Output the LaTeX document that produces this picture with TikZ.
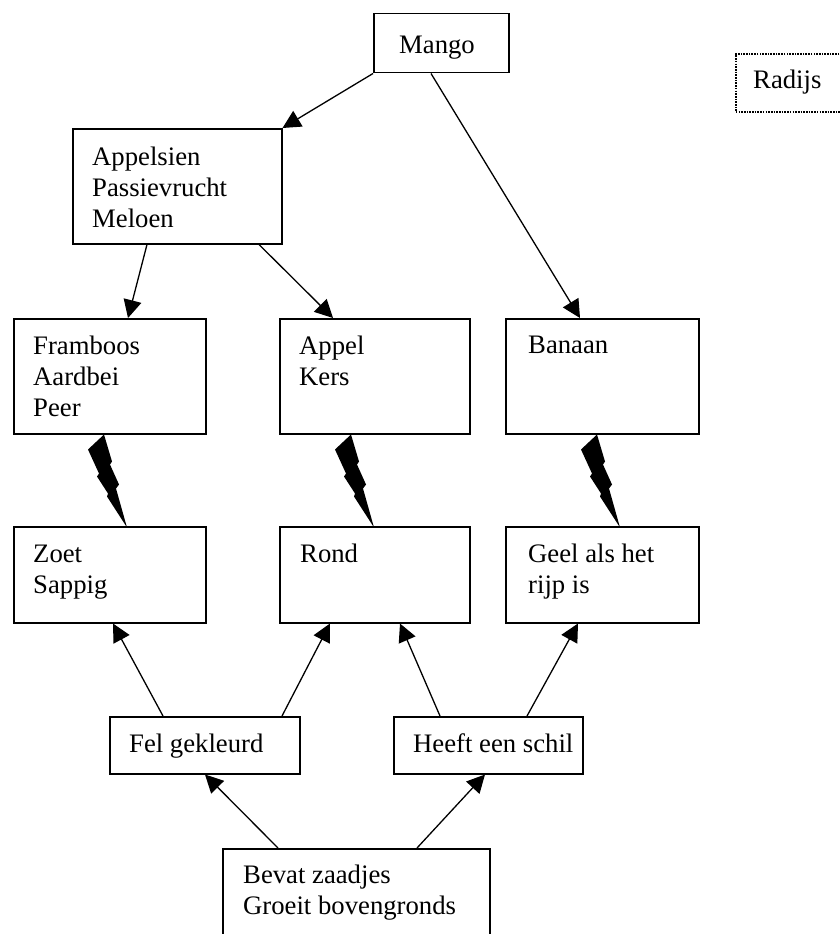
\documentclass[tikz,border=0pt]{standalone}
\usepackage{fontspec}
\setmainfont{Liberation Serif}
\usetikzlibrary{arrows.meta,calc}
\tikzset{
  box/.style={draw, line width=1.5pt, anchor=north west, inner sep=0pt},
  dotbox/.style={draw, line width=1.6pt, dash pattern=on 1.6pt off 1.1pt, anchor=north west, inner sep=0pt},
  txt/.style={anchor=north west, inner sep=0pt, align=left, font=\fontsize{26.7}{31.3}\selectfont},
  arr/.style={line width=1.3pt, -{Triangle[length=18pt,width=18pt]}},
  bolt/.pic={\fill (0,0) -- (8,27) -- (6,30) -- (15,50) -- (12,54) -- (23,93) -- (3,62) -- (4,59) -- (-7,42) -- (-5,39) -- (-16,15) -- cycle;}
}
\begin{document}
\begin{tikzpicture}[x=1pt,y=-1pt]
\clip (0,0) rectangle (840,934);
\fill[white] (0,0) rectangle (840,934);
% boxes
\node[box, minimum width=135pt, minimum height=59pt] (mango) at (373,13) {};
\node[dotbox, minimum width=120pt, minimum height=58pt] (ra) at (735,53) {};
\node[box, minimum width=209pt, minimum height=115pt] (ap) at (72,128) {};
\node[box, minimum width=192pt, minimum height=115pt] (fr) at (13,318) {};
\node[box, minimum width=190pt, minimum height=115pt] (ak) at (279,318) {};
\node[box, minimum width=193pt, minimum height=115pt] (ba) at (505,318) {};
\node[box, minimum width=192pt, minimum height=96pt] (zo) at (13,526) {};
\node[box, minimum width=190pt, minimum height=96pt] (ro) at (279,526) {};
\node[box, minimum width=193pt, minimum height=96pt] (ge) at (505,526) {};
\node[box, minimum width=190pt, minimum height=57pt] (fe) at (109,716) {};
\node[box, minimum width=189pt, minimum height=57pt] (he) at (393,716) {};
\node[box, minimum width=267pt, minimum height=120pt] (be) at (222,848) {};
% texts
\node[txt] (mangot) at ($(mango.north west)+(26,18)$) {\strut Mango};
\node[txt] (rat) at ($(ra.north west)+(18,13)$) {\strut Radijs};
\node[txt] (apt) at ($(ap.north west)+(20,15)$) {\strut Appelsien\\Passievrucht\\Meloen};
\node[txt] (frt) at ($(fr.north west)+(20,14)$) {\strut Framboos\\Aardbei\\Peer};
\node[txt] (akt) at ($(ak.north west)+(20,14)$) {\strut Appel\\Kers};
\node[txt] (bat) at ($(ba.north west)+(23,13)$) {\strut Banaan};
\node[txt] (zot) at ($(zo.north west)+(20,14)$) {\strut Zoet\\Sappig};
\node[txt] (rot) at ($(ro.north west)+(21,14)$) {\strut Rond};
\node[txt] (get) at ($(ge.north west)+(23,14)$) {\strut Geel als het\\rijp is};
\node[txt] (fet) at ($(fe.north west)+(20,14)$) {\strut Fel gekleurd};
\node[txt] (het) at ($(he.north west)+(20,14)$) {\strut Heeft een schil};
\node[txt] (bet) at ($(be.north west)+(21,13)$) {\strut Bevat zaadjes\\Groeit bovengronds};
% arrows
\draw[arr] (mango.south west) -- (ap.north east);
\draw[arr] ($(mango.south west)+(58,0)$) -- ($(ba.north west)+(75,0)$);
\draw[arr] ($(ap.south west)+(75,0)$) -- ($(fr.north west)+(115,0)$);
\draw[arr] ($(ap.south west)+(187,0)$) -- ($(ak.north west)+(54,0)$);
\draw[arr] ($(fe.north west)+(54,0)$) -- ($(zo.south west)+(100,0)$);
\draw[arr] ($(fe.north west)+(173,0)$) -- ($(ro.south west)+(51,0)$);
\draw[arr] ($(he.north west)+(47,0)$) -- ($(ro.south west)+(121,0)$);
\draw[arr] ($(he.north west)+(134,0)$) -- ($(ge.south west)+(73,0)$);
\draw[arr] ($(be.north west)+(56,0)$) -- ($(fe.south west)+(96,0)$);
\draw[arr] ($(be.north west)+(195,0)$) -- ($(he.south west)+(92,0)$);
% lightning bolts
\pic at ($(fr.south west)+(91,0)$) {bolt};
\pic at ($(ak.south west)+(72,0)$) {bolt};
\pic at ($(ba.south west)+(92,0)$) {bolt};
\end{tikzpicture}
\end{document}
